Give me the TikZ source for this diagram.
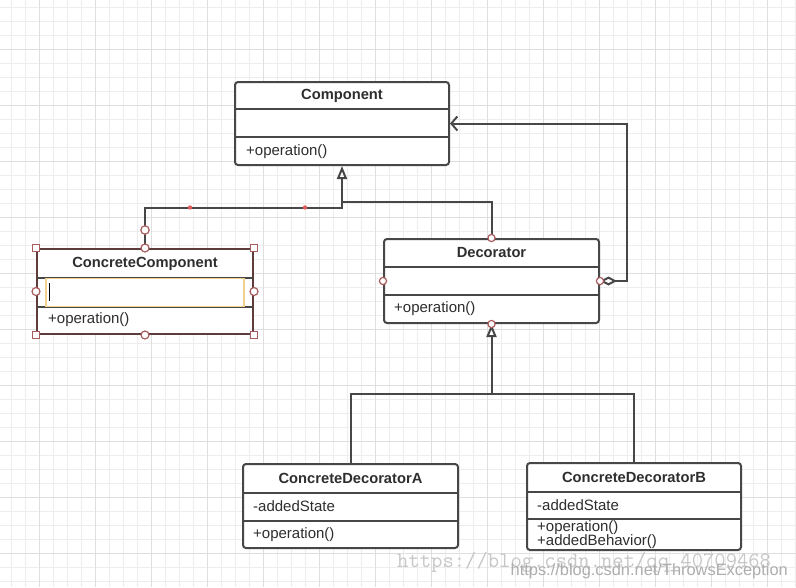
\documentclass[tikz,border=0pt]{standalone}
\usepackage{fontspec}
\setmainfont{Liberation Sans}
\usetikzlibrary{arrows.meta,calc}
\definecolor{gridminor}{HTML}{EDEDED}
\definecolor{gridmajor}{HTML}{DFDFDF}
\definecolor{boxline}{HTML}{474747}
\definecolor{txt}{HTML}{2E2E2E}
\definecolor{selred}{HTML}{A85C5C}
\definecolor{selbox}{HTML}{5E3C3C}
\definecolor{yellowsel}{HTML}{F2D08E}
\definecolor{reddot}{HTML}{E05A5A}
\begin{document}
\begin{tikzpicture}[x=1pt,y=-1pt,
  cls/.style={draw=boxline, line width=2pt, rounded corners=3pt, fill=white, inner sep=0pt},
  selcls/.style={draw=selbox, line width=2pt, fill=white, inner sep=0pt},
  sepline/.style={draw=boxline, line width=2pt},
  hdr/.style={font=\bfseries\fontsize{14.7}{16}\selectfont, text=txt, inner sep=0pt},
  mem/.style={font=\fontsize{15}{16}\selectfont, text=txt, inner sep=0pt, anchor=west},
  conn/.style={draw=boxline, line width=2pt},
  handle/.style={draw=selred, fill=white, line width=1.2pt},
]
\useasboundingbox (0,0) rectangle (796,587);
\fill[white] (0,0) rectangle (796,587);
% grid
\foreach \x in {11,25,...,795} \draw[gridminor, line width=1pt] (\x,0) -- (\x,587);
\foreach \y in {7,21,...,587} \draw[gridminor, line width=1pt] (0,\y) -- (796,\y);
\foreach \x in {39,95,...,795} \draw[gridmajor, line width=1pt] (\x,0) -- (\x,587);
\foreach \y in {49,105,...,587} \draw[gridmajor, line width=1pt] (0,\y) -- (796,\y);

% Component
\node[cls, minimum width=214pt, minimum height=83pt] (comp) at (342,123.5) {};
\draw[sepline] (235,109) -- (449,109);
\draw[sepline] (235,137) -- (449,137);
\node[hdr] (compT) at (342,95.5) {Component};
\node[mem] (compOp) at (246,152) {+operation()};

% ConcreteComponent (selected)
\node[selcls, minimum width=216pt, minimum height=85pt] (cc) at (145,291.5) {};
\draw[sepline] (37,278) -- (253,278);
\draw[sepline] (37,306.5) -- (253,306.5);
\draw[draw=yellowsel, fill=white, line width=1.5pt] (46,278.5) rectangle (244,306.5);
\draw[black, line width=1pt] (49,283) -- (49,301);
\node[hdr] (ccT) at (145,263.5) {ConcreteComponent};
\node[mem] (ccOp) at (48,320) {+operation()};

% Decorator
\node[cls, minimum width=215pt, minimum height=84pt] (dec) at (491.5,281) {};
\draw[sepline] (384,267) -- (599,267);
\draw[sepline] (384,295) -- (599,295);
\node[hdr] (decT) at (491.5,253) {Decorator};
\node[mem] (decOp) at (394,309) {+operation()};

% ConcreteDecoratorA
\node[cls, minimum width=215pt, minimum height=84pt] (cda) at (350.5,506) {};
\draw[sepline] (243,493) -- (458,493);
\draw[sepline] (243,521) -- (458,521);
\node[hdr] (cdaT) at (350.5,478.5) {ConcreteDecoratorA};
\node[mem] (cdaS) at (253,506.5) {-addedState};
\node[mem] (cdaOp) at (253,534.5) {+operation()};

% ConcreteDecoratorB
\node[cls, minimum width=214pt, minimum height=87pt] (cdb) at (634,506.5) {};
\draw[sepline] (527,492) -- (741,492);
\draw[sepline] (527,519) -- (741,519);
\node[hdr] (cdbT) at (634,477.5) {ConcreteDecoratorB};
\node[mem] (cdbS) at (537,505.5) {-addedState};
\node[mem] (cdbOp) at (537,527.5) {+operation()};
\node[mem] (cdbB) at (537,541.5) {+addedBehavior()};

% junctions
\coordinate (jL) at (342,208);
\coordinate (jT) at (342,202);
\coordinate (jD) at (491.5,393.5);
\coordinate (aggR) at (627,281);

% connectors
\draw[conn] (cc.north) |- (jL) -- (jT);
\draw[conn, -{Triangle[open, length=13pt, width=10pt]}] (dec.north) |- (jT) -- (comp.south);
\draw[conn] (cda.north) |- (jD) -| (cdb.north);
\draw[conn, -{Triangle[open, length=13pt, width=10pt]}] (jD) -- (dec.south);
\draw[conn, {Diamond[open, length=17pt, width=9pt]}-{Straight Barb[length=6pt, width=14pt]}] (dec.east) -- (aggR) |- (comp.east);

% red dots on selected connector
\fill[reddot] (190,207.5) circle (2.2);
\fill[reddot] (305,207.5) circle (2.2);

% selection handles
\draw[handle] ($(cc.north)+(0,-18)$) circle (4.2);
\foreach \a in {north west, north east, south west, south east}
  \draw[handle] ($(cc.\a)+(-3.5,-3.5)$) rectangle ++(7,7);
\foreach \a in {north, south, west, east}
  \draw[handle] (cc.\a) circle (4);
\foreach \a in {north, south, west, east}
  \draw[handle] (dec.\a) circle (3.6);

% watermarks
\node[anchor=west, inner sep=0pt, text=black!22, font=\ttfamily\fontsize{22}{22}\selectfont] (wm1) at (397,562) {https://blog.csdn.net/qq\_40709468};
\node[anchor=east, inner sep=0pt, text=black!32, font=\fontsize{16.4}{17}\selectfont] (wm2) at (788,571) {https://blog.csdn.net/ThrowsException};
\end{tikzpicture}
\end{document}
